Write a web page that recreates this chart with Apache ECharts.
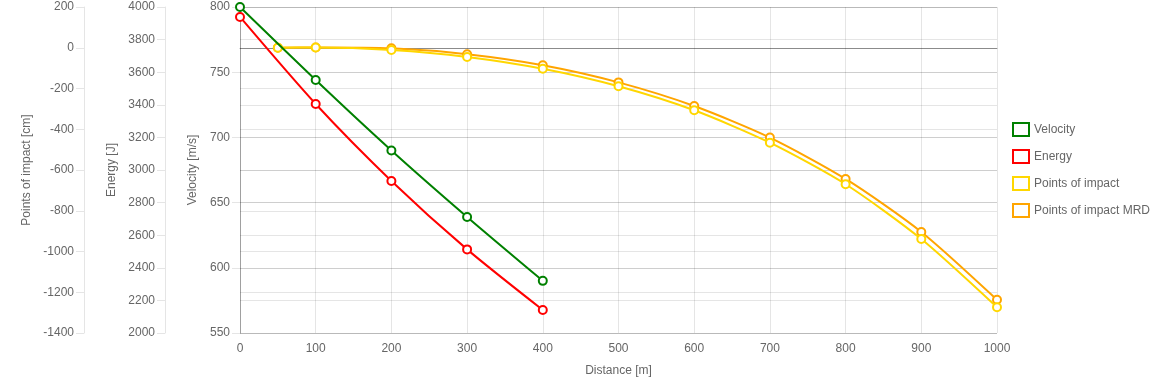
<!DOCTYPE html>
<html><head><meta charset="utf-8">
<script src="https://cdn.jsdelivr.net/npm/echarts@6/dist/echarts.min.js"></script>
<style>html,body{margin:0;padding:0;background:#fff}#c{width:1160px;height:386px}</style>
</head><body><div id="c"></div>
<script>
var distVE = [0, 100, 200, 300, 400];
var velocity = [800, 744, 690, 639, 590];
var energy = [3939, 3405, 2933, 2513, 2141];
var distPOI = [50, 100, 200, 300, 400, 500, 600, 700, 800, 900, 1000];
var poi = [0, 1, -11, -45, -103, -189, -307, -466, -670, -939, -1274];
var poiMRD = [0, 1, -3, -32, -86, -170, -286, -441, -644, -904, -1237];

function pairs(xs, ys){ return xs.map(function(x,i){return [x, ys[i]];}); }

var txt = '#666';
var grid = 'rgba(0,0,0,0.1)';
var font = 'Liberation Sans, Arial, sans-serif';
function plain(v){ return String(v); }
function yAxis(name, min, max, interval, offset, gap, lineColor, splitColor){
  return {
    type:'value', name:name, nameLocation:'middle', nameRotate:90, nameGap:gap,
    nameTextStyle:{color:txt, fontSize:12, fontFamily:font},
    min:min, max:max, interval:interval, position:'left', offset:offset,
    axisLine:{show:true, lineStyle:{color:lineColor, width:1}},
    axisTick:{show:true, length:8, lineStyle:{color:grid}},
    axisLabel:{color:txt, fontSize:12, fontFamily:font, margin:10, formatter:plain},
    splitLine:{show:true, lineStyle:{color:splitColor, width:1}}
  };
}
function lineSeries(name, color, data, yIdx, z){
  return {
    name:name, type:'line', yAxisIndex:yIdx, data:data, smooth:0.25, z:z,
    symbol:'emptyCircle', symbolSize:8, showSymbol:true,
    lineStyle:{color:color, width:2},
    itemStyle:{color:color, borderColor:color, borderWidth:2},
    emphasis:{disabled:true}
  };
}
var poiSplit = [grid,grid,grid,grid,grid,grid,grid,'rgba(0,0,0,0.22)',grid];
var chart = echarts.init(document.getElementById('c'), null, {renderer:'canvas'});
chart.setOption({
  animation:false,
  grid:{left:240, right:163, top:7, bottom:53},
  legend:{
    orient:'vertical', left:1007, top:117, itemGap:12, itemWidth:16, itemHeight:13,
    icon:'rect', textStyle:{color:txt, fontSize:12, fontFamily:font},
    data:[
      {name:'Velocity', itemStyle:{color:'#fff', borderColor:'green', borderWidth:2}},
      {name:'Energy', itemStyle:{color:'#fff', borderColor:'red', borderWidth:2}},
      {name:'Points of impact', itemStyle:{color:'#fff', borderColor:'gold', borderWidth:2}},
      {name:'Points of impact MRD', itemStyle:{color:'#fff', borderColor:'orange', borderWidth:2}}
    ]
  },
  xAxis:{
    type:'value', min:0, max:1000, interval:100, name:'Distance [m]',
    nameLocation:'middle', nameGap:32, nameTextStyle:{color:txt, fontSize:12, fontFamily:font},
    axisLine:{show:true, lineStyle:{color:'rgba(0,0,0,0.3)'}},
    axisTick:{show:false},
    axisLabel:{color:txt, fontSize:12, fontFamily:font, margin:10, formatter:plain},
    splitLine:{show:true, lineStyle:{color:grid}}
  },
  yAxis:[
    yAxis('Velocity [m/s]', 550, 800, 50, 0, 40, 'rgba(0,0,0,0.3)', grid),
    yAxis('Energy [J]', 2000, 4000, 200, 75, 40, grid, grid),
    yAxis('Points of impact [cm]', -1400, 200, 200, 156, 45, grid, poiSplit)
  ],
  series:[
    lineSeries('Velocity', 'green', pairs(distVE, velocity), 0, 10),
    lineSeries('Energy', 'red', pairs(distVE, energy), 1, 9),
    lineSeries('Points of impact', 'gold', pairs(distPOI, poi), 2, 8),
    lineSeries('Points of impact MRD', 'orange', pairs(distPOI, poiMRD), 2, 7)
  ]
});
</script></body></html>
